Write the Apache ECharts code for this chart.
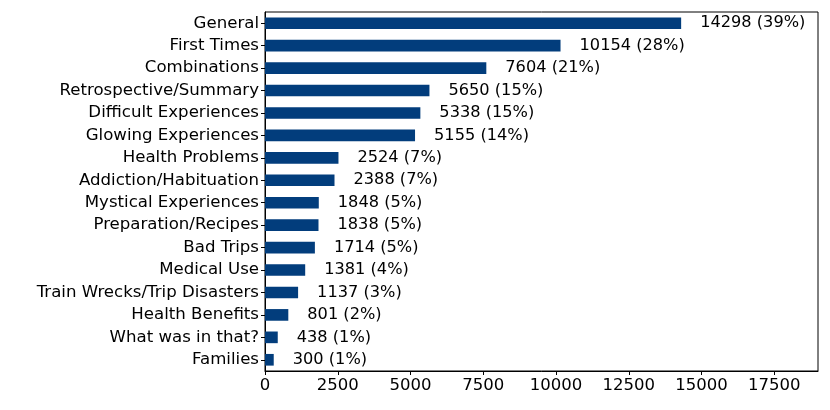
<!DOCTYPE html>
<html><head><meta charset="utf-8">
<script src="https://cdn.jsdelivr.net/npm/echarts@6/dist/echarts.min.js"></script>
<style>html,body{margin:0;padding:0;background:#fff}#c{width:830px;height:410px}</style>
</head><body><div id="c"></div>
<script>
const categories = ["General","First Times","Combinations","Retrospective/Summary","Difficult Experiences","Glowing Experiences","Health Problems","Addiction/Habituation","Mystical Experiences","Preparation/Recipes","Bad Trips","Medical Use","Train Wrecks/Trip Disasters","Health Benefits","What was in that?","Families"];
const counts = [14298,10154,7604,5650,5338,5155,2524,2388,1848,1838,1714,1381,1137,801,438,300];
const percents = [39,28,21,15,15,14,7,7,5,5,5,4,3,2,1,1];
const xTicks = [0,2500,5000,7500,10000,12500,15000,17500];

const chart = echarts.init(document.getElementById('c'), null, {renderer:'canvas'});
const font = 'DejaVu Sans';
chart.setOption({
  animation:false,
  grid:{left:265,right:12,top:12,bottom:39,show:true,borderColor:'#000',borderWidth:1,backgroundColor:'transparent'},
  xAxis:{type:'value',min:0,max:19000,
    axisLine:{show:true,lineStyle:{color:'#000'}},
    axisTick:{show:true,length:4,customValues:xTicks,lineStyle:{color:'#000'}},
    splitLine:{show:false},
    axisLabel:{color:'#000',fontFamily:font,fontSize:16.5,margin:6,customValues:xTicks,
      formatter:v=>String(v)}
  },
  yAxis:{type:'category',inverse:true,data:categories,
    axisLine:{show:true,lineStyle:{color:'#000'}},
    axisTick:{show:true,length:4,alignWithLabel:true,lineStyle:{color:'#000'}},
    axisLabel:{color:'#000',fontFamily:font,fontSize:16.6,margin:6}
  },
  series:[{type:'bar',data:counts,barCategoryGap:'48%',
    itemStyle:{color:'#023d7c'},
    label:{show:true,position:'right',distance:19,color:'#000',fontFamily:font,fontSize:16.2,
      formatter:p=>p.value+' ('+percents[p.dataIndex]+'%)'}
  }]
});
</script></body></html>
